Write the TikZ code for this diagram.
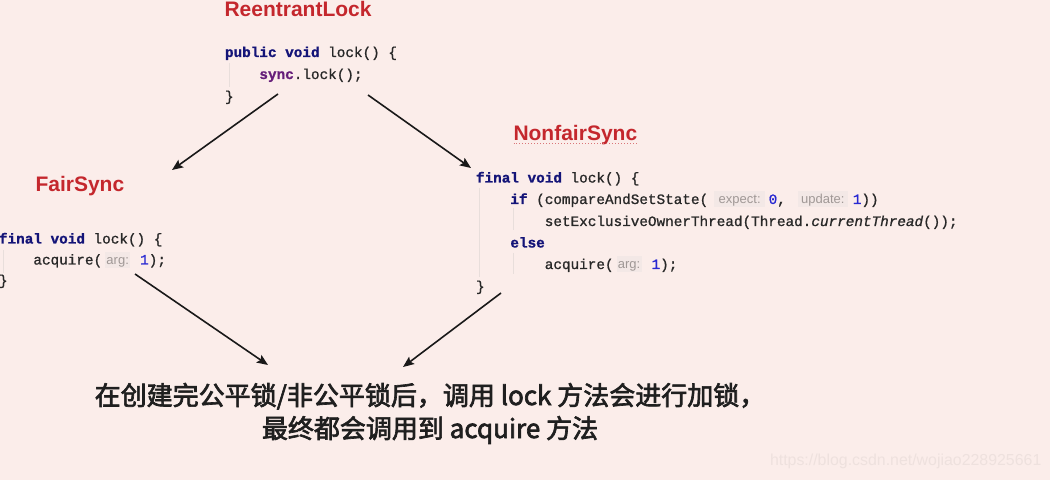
\documentclass[tikz,border=0pt]{standalone}
\usepackage{fontspec}
\usetikzlibrary{arrows.meta}
\newfontfamily\codefont[FakeBold=1]{Liberation Mono}
\newfontfamily\titlefont{Liberation Sans}
\newfontfamily\hintfont{Liberation Sans}
\newfontfamily\cjk[FakeBold=2.5]{Noto Sans CJK SC}
\definecolor{bgc}{RGB}{251,237,234}
\definecolor{titlec}{RGB}{196,39,45}
\definecolor{kwc}{RGB}{20,20,120}
\definecolor{fldc}{RGB}{102,30,122}
\definecolor{numc}{RGB}{40,40,210}
\definecolor{codec}{RGB}{40,40,40}
\definecolor{hintbg}{RGB}{243,232,230}
\definecolor{hintfg}{RGB}{160,152,150}
\definecolor{guidec}{RGB}{232,222,219}
\definecolor{wmc}{RGB}{238,225,222}
\definecolor{arrowc}{RGB}{25,25,25}
\newcommand\kw[1]{{\bfseries\color{kwc}#1}}
\newcommand\fld[1]{{\bfseries\color{fldc}#1}}
\newcommand\num[1]{{\color{numc}#1}}
\newcommand\hint[2]{{\setlength\fboxsep{0pt}\colorbox{hintbg}{\makebox[#1bp]{\rule[-3.5bp]{0pt}{16bp}\hintfont\fontsize{13bp}{13bp}\selectfont\color{hintfg}#2}}}}
\tikzset{
  code/.style={anchor=base west, inner sep=0pt, outer sep=0pt, text=codec,
    font=\codefont\fontsize{14.33bp}{21.7bp}\selectfont},
  title/.style={anchor=base west, inner sep=0pt, outer sep=0pt, text=titlec,
    font=\titlefont\bfseries\fontsize{21bp}{24bp}\selectfont},
  note/.style={anchor=base, inner sep=0pt, outer sep=0pt, text=black!88,
    font=\cjk\fontsize{26bp}{30bp}\selectfont},
  watermark/.style={anchor=base west, inner sep=0pt, outer sep=0pt, text=wmc,
    font=\hintfont\fontsize{15.9bp}{18bp}\selectfont},
  guide/.style={draw=guidec, line width=0.8bp},
  flow/.style={draw=arrowc, line width=1.6bp, -{Stealth[length=11bp,width=9bp,inset=2bp]}}
}
\begin{document}
\begin{tikzpicture}[x=1bp,y=-1bp]
\fill[bgc] (0,0) rectangle (1050,480);
\useasboundingbox (0,0) rectangle (1050,480);

% titles
\node[title] (rl) at (224.5,17) {ReentrantLock};
\node[title] (fs) at (35.5,192) {FairSync};
\node[title] (nf) at (513.5,141) {NonfairSync};
\draw[draw=titlec!60!bgc, line width=1bp, dotted] ([yshift=-2.5bp]nf.base west) -- ([yshift=-2.5bp]nf.base east);

% ReentrantLock code
\node[code] (r1) at (225,57) {\kw{public void} lock() \{};
\node[code] (r2) at (259.4,79) {\fld{sync}.lock();};
\node[code] (r3) at (225,101) {\}};
\draw[guide] (229,63) -- (229,87);

% FairSync code
\node[code] (f1) at (-1,243.5) {\kw{final void} lock() \{};
\node[code] (f2) at (33.4,264.5) {acquire(\hspace{3bp}\hint{25}{arg:}\hspace{10bp}\num{1});};
\node[code] (f3) at (-1,285) {\}};
\draw[guide] (3,250) -- (3,273);

% NonfairSync code
\node[code] (n1) at (476,182.5) {\kw{final void} lock() \{};
\node[code] (n2) at (510.4,204) {\kw{if} (compareAndSetState(\hspace{6bp}\hint{51}{expect:}\hspace{3.5bp}\num{0},\hspace{12bp}\hint{50}{update:}\hspace{5bp}\num{1}))};
\node[code] (n3) at (544.8,226) {setExclusiveOwnerThread(Thread.\textit{currentThread}());};
\node[code] (n4) at (510.4,247.5) {\kw{else}};
\node[code] (n5) at (544.8,269) {acquire(\hspace{3bp}\hint{25}{arg:}\hspace{10bp}\num{1});};
\node[code] (n6) at (476,291) {\}};
\draw[guide] (479,188) -- (479,277);
\draw[guide] (513,208) -- (513,230);
\draw[guide] (513,253) -- (513,274);

% note
\node[note] (c1) at (430,405) {在创建完公平锁/非公平锁后，调用 lock 方法会进行加锁，};
\node[note] (c2) at (430,438) {最终都会调用到 acquire 方法};

% watermark
\node[watermark] (wm) at (770,465) {https://blog.csdn.net/wojiao228925661};

% arrows
\coordinate (a1s) at (278,94);  \coordinate (a1e) at (172,170);
\coordinate (a2s) at (368,95);  \coordinate (a2e) at (471,168);
\coordinate (a3s) at (135,274); \coordinate (a3e) at (268,365);
\coordinate (a4s) at (501,293); \coordinate (a4e) at (403,367);
\draw[flow] (a1s) -- (a1e);
\draw[flow] (a2s) -- (a2e);
\draw[flow] (a3s) -- (a3e);
\draw[flow] (a4s) -- (a4e);
\end{tikzpicture}
\end{document}
